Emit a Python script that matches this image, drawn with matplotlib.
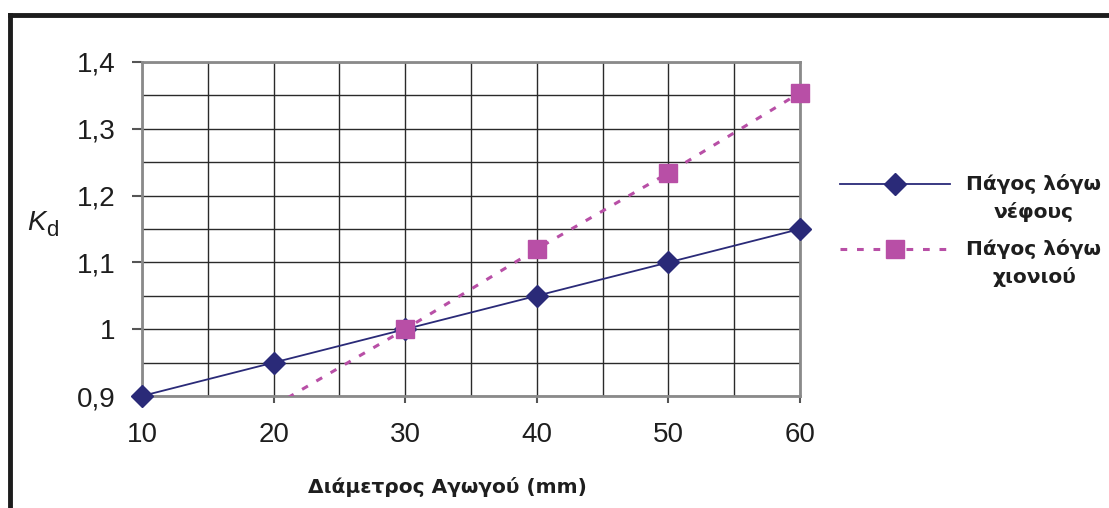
import matplotlib
matplotlib.use("Agg")
import matplotlib.pyplot as plt
from matplotlib.lines import Line2D
from matplotlib.ticker import MultipleLocator, FuncFormatter

# Data: conductor diameter (mm) vs. ice coefficient K_d
diam_cloud = [10, 20, 30, 40, 50, 60]
kd_cloud = [0.90, 0.95, 1.00, 1.05, 1.10, 1.15]

diam_snow = [20, 30, 40, 50, 60]
kd_snow = [0.885, 1.00, 1.12, 1.234, 1.354]

series_labels = ["Πάγος λόγω\nνέφους", "Πάγος λόγω\nχιονιού"]
x_label = "Διάμετρος Αγωγού (mm)"

navy = "#2a2a78"
magenta = "#b84fa6"
txt = "#1e1e1e"
snow_dash = (0, (2.2, 3.2))

fig = plt.figure(figsize=(11.09, 5.08), dpi=100)
W, H = 1109, 508
ax = fig.add_axes([142 / W, 1 - 396 / H, (800 - 142) / W, (396 - 62) / H])

y_lo, y_hi = 0.9, 1.4

ax.plot(diam_cloud, kd_cloud, color=navy, lw=1.3, marker="D", ms=11,
        mfc=navy, mec=navy, zorder=4, clip_on=False)

# dotted line is clipped at the axes; markers only where the value is in range
ax.plot(diam_snow, kd_snow, color=magenta, lw=2.2, ls=snow_dash, zorder=3)
vis = [(x, y) for x, y in zip(diam_snow, kd_snow) if y_lo <= y <= y_hi]
ax.plot([p[0] for p in vis], [p[1] for p in vis], ls="none", marker="s", ms=13,
        mfc=magenta, mec=magenta, zorder=5, clip_on=False)

ax.set_xlim(10, 60)
ax.set_ylim(y_lo, y_hi)
ax.xaxis.set_major_locator(MultipleLocator(10))
ax.xaxis.set_minor_locator(MultipleLocator(5))
ax.yaxis.set_major_locator(MultipleLocator(0.1))
ax.yaxis.set_minor_locator(MultipleLocator(0.05))
ax.yaxis.set_major_formatter(FuncFormatter(lambda v, p: f"{v:g}".replace(".", ",")))

ax.grid(True, which="both", color="#2a2a2a", lw=1.0, zorder=1)
ax.set_axisbelow(True)
for s in ax.spines.values():
    s.set_color("#8a8a8a")
    s.set_linewidth(2.0)
ax.tick_params(axis="both", which="major", labelsize=20, colors="#555555",
               labelcolor=txt, width=1.5)
ax.tick_params(axis="y", which="major", length=7, pad=12)
ax.tick_params(axis="x", which="major", length=5, pad=14)
ax.tick_params(which="minor", length=0)
for lab in ax.get_xticklabels() + ax.get_yticklabels():
    lab.set_fontfamily("Liberation Sans")

fig.text(447 / W, 1 - 487 / H, x_label, ha="center", va="center",
         fontsize=14.5, fontweight="bold", family="DejaVu Sans", color=txt)

# y-axis label K_d
fig.text(27 / W, 1 - 223 / H, "K", ha="left", va="center", fontsize=20,
         style="italic", family="Liberation Sans", color=txt)
fig.text(46 / W, 1 - 230 / H, "d", ha="left", va="center", fontsize=16,
         family="Liberation Sans", color=txt)

# Legend
leg_rows = [(184, navy, "-", "D", 11, 1.3), (249, magenta, snow_dash, "s", 13, 2.2)]
for (yp, col, ls, mk, ms, lw), lab in zip(leg_rows, series_labels):
    yf = 1 - yp / H
    fig.add_artist(Line2D([840 / W, 950 / W], [yf, yf], color=col, ls=ls, lw=lw,
                          transform=fig.transFigure))
    fig.add_artist(Line2D([895 / W], [yf], marker=mk, ms=ms, color=col, mfc=col,
                          mec=col, transform=fig.transFigure))
    l1, l2 = lab.split("\n")
    fig.text(1034 / W, yf, l1, ha="center", va="center", fontsize=14.5,
             fontweight="bold", family="DejaVu Sans", color=txt)
    fig.text(1034 / W, 1 - (yp + 28) / H, l2, ha="center", va="center", fontsize=14.5,
             fontweight="bold", family="DejaVu Sans", color=txt)

# Outer frame (top and left edges)
fig.add_artist(Line2D([10 / W, 1.0], [1 - 14.5 / H, 1 - 14.5 / H], color="#1c1c1c",
                      lw=3.5, transform=fig.transFigure))
fig.add_artist(Line2D([10 / W, 10 / W], [0, 1 - 14.5 / H], color="#1c1c1c",
                      lw=3.5, transform=fig.transFigure))

fig.savefig("out.png", dpi=100, facecolor="white")
